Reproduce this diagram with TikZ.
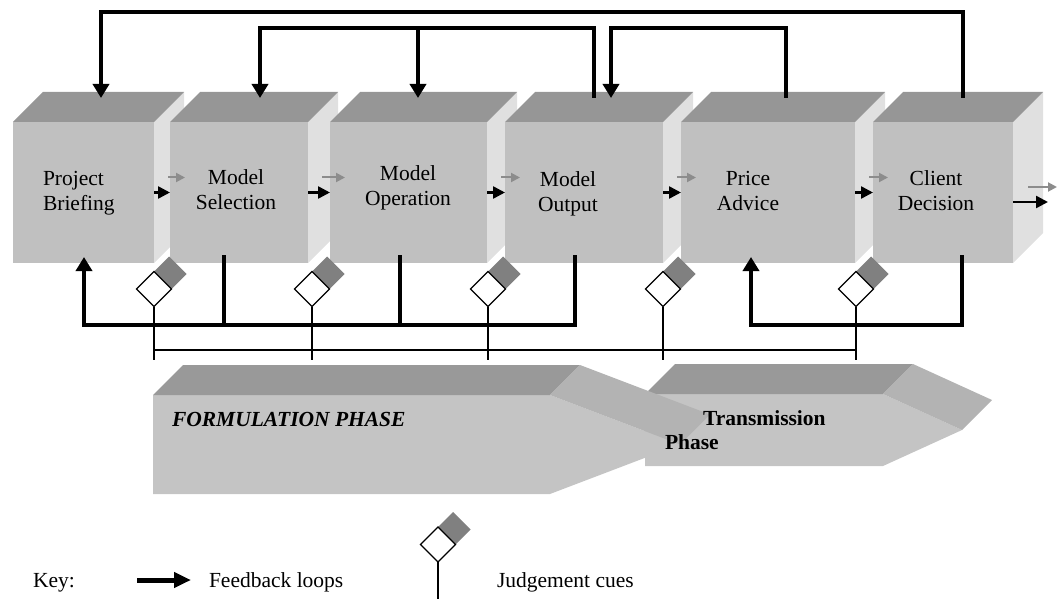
\documentclass[tikz,border=0pt]{standalone}
\usepackage{fontspec}
\setmainfont{Liberation Serif}
\usetikzlibrary{arrows.meta,shapes.geometric,calc}
\definecolor{frontc}{HTML}{C0C0C0}
\definecolor{topc}{HTML}{969696}
\definecolor{sidec}{HTML}{E0E0E0}
\definecolor{pfront}{HTML}{C4C4C4}
\definecolor{ptop}{HTML}{999999}
\definecolor{pbevel}{HTML}{B3B3B3}
\definecolor{cuegray}{HTML}{808080}
\definecolor{ghost}{HTML}{8C8C8C}
\newcommand\txtfont{\fontsize{21.5}{25}\selectfont}
\begin{document}
\begin{tikzpicture}[x=1pt,y=-1pt,
  every node/.style={font=\txtfont, inner sep=0pt, outer sep=0pt},
  box/.style={fill=frontc, minimum height=141pt},
  flow/.style={line width=2.5pt, -{Triangle[length=12pt,width=12pt]}},
  ghostarrow/.style={ghost, line width=2pt, -{Triangle[length=9pt,width=9pt]}},
  fb/.style={line width=4pt},
  fbarrow/.style={fb, -{Triangle[length=14pt,width=16pt]}},
  cue/.style={diamond, draw, line width=1.3pt, fill=white, minimum size=35pt},
  stem/.style={line width=1.2pt},
  lbl/.style={align=center}
]
\useasboundingbox (0,0) rectangle (1058,599);

% ---------- process boxes ----------
\foreach \n/\cx/\w in {b1/83.5/141, b2/239/138, b3/408.5/157, b4/584/158, b5/768/174, b6/943/140}{
  \node[box, minimum width=\w pt] (\n) at (\cx,192.5) {};
  \fill[sidec] (\n.north east) -- ++(30,-30) -- ([shift={(30,-30)}]\n.south east) -- (\n.south east) -- cycle;
  \fill[topc] (\n.north west) -- ++(30,-30) -- ([shift={(30,-30)}]\n.north east) -- (\n.north east) -- cycle;
}

\node[align=left, anchor=west] (tb1) at (43,193.5) {Project\\Briefing};
\node[lbl] (tb2) at (236,190) {Model\\Selection};
\node[lbl] (tb3) at (408,187.5) {Model\\Operation};
\node[lbl] (tb4) at (568,193.5) {Model\\Output};
\node[lbl] (tb5) at (748,191) {Price\\Advice};
\node[lbl] (tb6) at (936,191) {Client\\Decision};

% ---------- flow arrows ----------
\foreach \a/\b in {b1/b2,b2/b3,b3/b4,b4/b5,b5/b6}{
  \draw[flow] (\a.east) -- (\b.west);
  \draw[ghostarrow] ([shift={(14,-15)}]\a.east) -- ([shift={(15,-15)}]\b.west);
}
\coordinate (out) at (1048,202);
\coordinate (outg) at (1057,187);
\draw[flow] ([shift={(0,9.5)}]b6.east) -- (out);
\draw[ghostarrow] ([shift={(15,-5.5)}]b6.east) -- (outg);

% ---------- top feedback loops ----------
\coordinate (lineA) at (0,12);
\coordinate (lineB) at (0,28);
\coordinate (t1) at (101,98);
\coordinate (t2) at (260,98);
\coordinate (t3) at (418,98);
\coordinate (t4a) at (594,98);
\coordinate (t4b) at (611,98);
\coordinate (t5) at (786,98);
\coordinate (t6) at (963,98);
\draw[fbarrow] (t6) -- (t6 |- lineA) -| (t1);
\draw[fbarrow] (t4a) -- (t4a |- lineB) -| (t2);
\draw[fbarrow] (t3 |- lineB) -- (t3);
\draw[fbarrow] (t5) -- (t5 |- lineB) -| (t4b);

% ---------- bottom feedback loops ----------
\coordinate (lineC) at (0,325);
\coordinate (s1) at (84,257);
\coordinate (s2) at (224,255);
\coordinate (s3) at (400,255);
\coordinate (s4) at (575,255);
\coordinate (s5) at (751,257);
\coordinate (s6) at (962,255);
\draw[fbarrow] (s4) -- (s4 |- lineC) -| (s1);
\draw[fb] (s2) -- (s2 |- lineC);
\draw[fb] (s3) -- (s3 |- lineC);
\draw[fbarrow] (s6) -- (s6 |- lineC) -| (s5);

% ---------- judgement cues ----------
\coordinate (stemend) at (0,360);
\coordinate (brk) at (0,350);
\foreach \i/\x in {1/154,2/312,3/488,4/663,5/856}{
  \coordinate (j\i) at (\x,289);
  \fill[cuegray] ($(j\i)+(0,-17.5)$) -- ($(j\i)+(17.5,0)$) -- ($(j\i)+(32.5,-15)$) -- ($(j\i)+(15,-32.5)$) -- cycle;
  \node[cue] (d\i) at (j\i) {};
  \draw[stem] (d\i.south) -- (d\i.south |- stemend);
}
\draw[stem] (d1.south |- brk) -- (d5.south |- brk);

% ---------- phase arrows ----------
\fill[pfront] (645,394) -- (883,394) -- (962,430) -- (883,466) -- (645,466) -- cycle;
\fill[ptop] (645,394) -- (675,364) -- (913,364) -- (883,394) -- cycle;
\fill[pbevel] (883,394) -- (913,364) -- (992,400) -- (962,430) -- cycle;

\fill[pfront] (153,395) -- (550,395) -- (680,444.5) -- (550,494) -- (153,494) -- cycle;
\fill[ptop] (153,395) -- (183,365) -- (580,365) -- (550,395) -- cycle;
\fill[pbevel] (550,395) -- (580,365) -- (710,414.5) -- (680,444.5) -- cycle;

\node[anchor=base west, font=\txtfont\bfseries\itshape] (fph) at (172,426) {FORMULATION PHASE};
\node[anchor=north west, align=left, font=\fontsize{21.5}{24}\selectfont\bfseries] (tph) at (665,411) {\hspace*{38pt}Transmission\\Phase};

% ---------- key ----------
\node[anchor=base west] (key) at (33,587) {Key:};
\coordinate (ka) at (137,580);
\coordinate (kb) at (191,580);
\draw[line width=5pt, -{Triangle[length=17pt,width=15pt]}] (ka) -- (kb);
\node[anchor=base west] (kfb) at (209,587) {Feedback loops};
\coordinate (jk) at (438,544.5);
\coordinate (kbot) at (0,599);
\fill[cuegray] ($(jk)+(0,-17.5)$) -- ($(jk)+(17.5,0)$) -- ($(jk)+(32.5,-15)$) -- ($(jk)+(15,-32.5)$) -- cycle;
\node[cue] (dk) at (jk) {};
\draw[stem] (dk.south) -- (dk.south |- kbot);
\node[anchor=base west] (kjc) at (497,587) {Judgement cues};
\end{tikzpicture}
\end{document}
